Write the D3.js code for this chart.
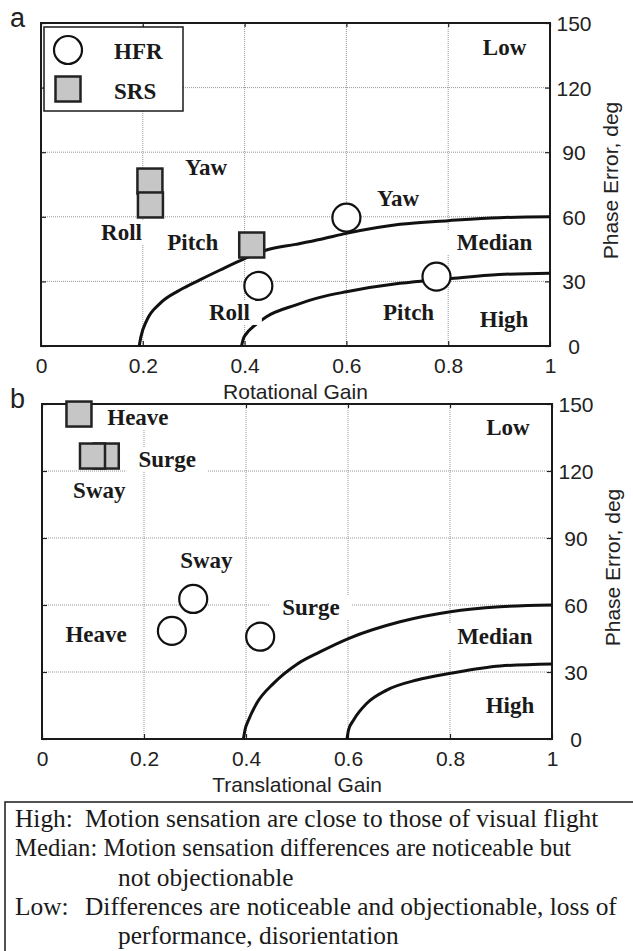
<!DOCTYPE html>
<html>
<head>
<meta charset="utf-8">
<script src="https://cdn.jsdelivr.net/npm/d3@7"></script>
<style>
  body { margin: 0; background: #fff; }
  svg { display: block; }
</style>
</head>
<body>
<div id="chart"></div>
<script>
// Axis ticks
const gainTicks = [0, 0.2, 0.4, 0.6, 0.8, 1];
const gainTickLabels = ["0", "0.2", "0.4", "0.6", "0.8", "1"];
const phaseTicks = [0, 30, 60, 90, 120, 150];

// Panel a: rotational motion
const rotHfrNames = ["Yaw", "Roll", "Pitch"];
const rotHfrGain = [0.600, 0.427, 0.777];
const rotHfrPhase = [59.6, 27.9, 32.2];
const rotSrsNames = ["Yaw", "Roll", "Pitch"];
const rotSrsGain = [0.214, 0.215, 0.414];
const rotSrsPhase = [76.6, 65.5, 46.9];

// fidelity boundaries (gain, phase)
const rotMedianBound = [[0.193, 0], [0.196, 4], [0.208, 12], [0.234, 19.8], [0.273, 26], [0.312, 30.7],
  [0.352, 35.3], [0.401, 40.7], [0.443, 44.6], [0.5, 47.2], [0.55, 49.6], [0.6, 52.3], [0.705, 56.5],
  [0.8, 58.2], [0.9, 59.6], [1, 60]];
const rotHighBound = [[0.394, 0], [0.397, 3], [0.404, 5.9], [0.417, 9], [0.443, 13.6], [0.5, 19],
  [0.548, 22.6], [0.6, 25.2], [0.705, 29.1], [0.8, 31.2], [0.9, 33.2], [1, 33.8]];

const rotLabelText = ["Yaw", "Roll", "Pitch", "Yaw", "Roll", "Pitch", "Low", "Median", "High"];
const rotLabelGain = [0.283, 0.118, 0.248, 0.660, 0.330, 0.672, 0.868, 0.817, 0.862];
const rotLabelPhase = [79.4, 49.2, 44.6, 65.0, 12.1, 12.1, 135.2, 44.6, 8.8];

// Panel b: translational motion
const trHfrNames = ["Sway", "Heave", "Surge"];
const trHfrGain = [0.2965, 0.2547, 0.4278];
const trHfrPhase = [62.7, 48.4, 45.8];
const trSrsNames = ["Heave", "Surge", "Sway"];
const trSrsGain = [0.0725, 0.126, 0.099];
const trSrsPhase = [145.5, 126.7, 126.7];

const trMedianBound = [[0.395, 0], [0.398, 4], [0.405, 8.5], [0.421, 16], [0.454, 24.9], [0.5, 33.5],
  [0.545, 39], [0.602, 45.1], [0.702, 52.5], [0.801, 57], [0.898, 59.2], [1, 60]];
const trHighBound = [[0.598, 0], [0.601, 4], [0.611, 8.5], [0.637, 16], [0.676, 21.9], [0.735, 26.4],
  [0.801, 29.4], [0.898, 32.7], [1, 33.6]];

const trLabelText = ["Heave", "Surge", "Sway", "Sway", "Heave", "Surge", "Low", "Median", "High"];
const trLabelGain = [0.128, 0.189, 0.061, 0.271, 0.046, 0.471, 0.871, 0.814, 0.870];
const trLabelPhase = [140.6, 121.8, 107.9, 76.6, 43.4, 55.5, 136.1, 42.5, 11.6];

// Notes below the plots
const noteKeys = ["High:", "Median:", "", "Low:", ""];
const noteLines = [
  "Motion sensation are close to those of visual flight",
  "Motion sensation differences are noticeable but",
  "not objectionable",
  "Differences are noticeable and objectionable, loss of",
  "performance, disorientation"
];

const W = 633, H = 951;
const SANS = "'Liberation Sans', Arial, sans-serif";
const SERIF = "'Liberation Serif', 'Times New Roman', serif";

const svg = d3.select("#chart").append("svg")
  .attr("width", W)
  .attr("height", H);

function drawPanel(p) {
  const x = d3.scaleLinear().domain([0, 1]).range([p.left, p.right]);
  const y = d3.scaleLinear().domain([0, 150]).range([p.bottom, p.top]);
  const g = svg.append("g");

  // dotted grid
  g.selectAll(".vgrid")
    .data(gainTicks.slice(1, -1))
    .enter().append("line")
    .attr("x1", d => x(d)).attr("x2", d => x(d))
    .attr("y1", p.top).attr("y2", p.bottom)
    .attr("stroke", "#8a8a8a").attr("stroke-width", 0.9)
    .attr("stroke-dasharray", "1,1");
  g.selectAll(".hgrid")
    .data(phaseTicks.slice(1, -1))
    .enter().append("line")
    .attr("x1", p.left).attr("x2", p.right)
    .attr("y1", d => y(d)).attr("y2", d => y(d))
    .attr("stroke", "#8a8a8a").attr("stroke-width", 0.9)
    .attr("stroke-dasharray", "1,1");

  // axes with inward ticks
  const xAxis = g.append("g")
    .attr("transform", `translate(0,${p.bottom})`)
    .call(d3.axisBottom(x).tickValues(gainTicks)
      .tickFormat((d, i) => gainTickLabels[i])
      .tickSize(-5).tickSizeOuter(0).tickPadding(12));
  g.append("g")
    .attr("transform", `translate(0,${p.top})`)
    .call(d3.axisTop(x).tickValues(gainTicks).tickFormat("").tickSize(-4).tickSizeOuter(0));
  g.append("g")
    .attr("transform", `translate(${p.left},0)`)
    .call(d3.axisLeft(y).tickValues(phaseTicks).tickFormat("").tickSize(-5).tickSizeOuter(0));
  const yAxis = g.append("g")
    .attr("transform", `translate(${p.right},0)`)
    .call(d3.axisRight(y).tickValues(phaseTicks).tickSize(-5).tickSizeOuter(0));

  g.selectAll(".domain").remove();
  g.selectAll(".tick line").attr("stroke", "#222").attr("stroke-width", 1.2);
  xAxis.selectAll("text")
    .style("font-family", SANS).style("font-size", "21px").attr("fill", "#222");
  yAxis.selectAll("text")
    .attr("x", 24).attr("dy", "0.36em")
    .attr("text-anchor", "middle")
    .style("font-family", SANS).style("font-size", "21px").attr("fill", "#222");

  // box
  g.append("rect")
    .attr("x", p.left).attr("y", p.top)
    .attr("width", p.right - p.left).attr("height", p.bottom - p.top)
    .attr("fill", "none").attr("stroke", "#1a1a1a").attr("stroke-width", 2);

  // axis titles
  g.append("text")
    .attr("x", (p.left + p.right) / 2).attr("y", p.bottom + 53)
    .attr("text-anchor", "middle")
    .style("font-family", SANS).style("font-size", "21px").attr("fill", "#222")
    .text(p.xTitle);
  g.append("text")
    .attr("transform", `translate(${p.right + 68},${(p.top + p.bottom) / 2 - 4}) rotate(-90)`)
    .attr("text-anchor", "middle")
    .style("font-family", SANS).style("font-size", "21px").attr("fill", "#222")
    .text("Phase Error, deg");

  // panel letter
  svg.append("text")
    .attr("x", 10).attr("y", p.top + 4)
    .style("font-family", SANS).style("font-size", "27px").attr("fill", "#222")
    .text(p.letter);

  // boundary curves
  const line = d3.line()
    .x(d => x(d[0])).y(d => y(d[1]))
    .curve(d3.curveMonotoneX);
  g.selectAll(".bound")
    .data(p.bounds)
    .enter().append("path")
    .attr("d", line)
    .attr("fill", "none").attr("stroke", "#111").attr("stroke-width", 3);

  // text labels with white background
  p.labelText.forEach((t, i) => {
    const lg = g.append("g");
    const txt = lg.append("text")
      .attr("x", x(p.labelGain[i])).attr("y", y(p.labelPhase[i]))
      .style("font-family", SERIF).style("font-size", "23px").style("font-weight", "bold")
      .attr("fill", "#1a1a1a")
      .text(t);
    const bb = txt.node().getBBox();
    lg.insert("rect", "text")
      .attr("x", bb.x - 12).attr("y", bb.y)
      .attr("width", bb.width + 24).attr("height", bb.height)
      .attr("fill", "#fff");
  });

  // markers
  g.selectAll(".srs")
    .data(p.srsGain)
    .enter().append("rect")
    .attr("x", (d, i) => x(d) - 12.5)
    .attr("y", (d, i) => y(p.srsPhase[i]) - 12.5)
    .attr("width", 25).attr("height", 25)
    .attr("fill", "#c6c6c6").attr("stroke", "#222").attr("stroke-width", 2.5);
  g.selectAll(".hfr")
    .data(p.hfrGain)
    .enter().append("circle")
    .attr("cx", d => x(d))
    .attr("cy", (d, i) => y(p.hfrPhase[i]))
    .attr("r", 14)
    .attr("fill", "#fff").attr("stroke", "#111").attr("stroke-width", 2.2);
}

drawPanel({
  letter: "a", left: 41, right: 550, top: 23, bottom: 346,
  xTitle: "Rotational Gain",
  bounds: [rotMedianBound, rotHighBound],
  labelText: rotLabelText, labelGain: rotLabelGain, labelPhase: rotLabelPhase,
  hfrGain: rotHfrGain, hfrPhase: rotHfrPhase,
  srsGain: rotSrsGain, srsPhase: rotSrsPhase
});

drawPanel({
  letter: "b", left: 42, right: 552, top: 404, bottom: 739,
  xTitle: "Translational Gain",
  bounds: [trMedianBound, trHighBound],
  labelText: trLabelText, labelGain: trLabelGain, labelPhase: trLabelPhase,
  hfrGain: trHfrGain, hfrPhase: trHfrPhase,
  srsGain: trSrsGain, srsPhase: trSrsPhase
});

// Legend (panel a)
const legend = svg.append("g");
legend.append("rect")
  .attr("x", 44).attr("y", 27).attr("width", 139).attr("height", 84)
  .attr("fill", "#fff").attr("stroke", "#1a1a1a").attr("stroke-width", 1.5);
legend.append("circle")
  .attr("cx", 68).attr("cy", 50).attr("r", 14)
  .attr("fill", "#fff").attr("stroke", "#111").attr("stroke-width", 2.2);
legend.append("rect")
  .attr("x", 55.5).attr("y", 76.5).attr("width", 25).attr("height", 25)
  .attr("fill", "#c6c6c6").attr("stroke", "#222").attr("stroke-width", 2.5);
legend.selectAll(".legtext")
  .data(["HFR", "SRS"])
  .enter().append("text")
  .attr("x", 114)
  .attr("y", (d, i) => i === 0 ? 59 : 99)
  .style("font-family", SERIF).style("font-size", "23px").style("font-weight", "bold")
  .attr("fill", "#1a1a1a")
  .text(d => d);

// Notes box
const notes = svg.append("g");
notes.append("rect")
  .attr("x", 5).attr("y", 802).attr("width", 660).attr("height", 200)
  .attr("fill", "none").attr("stroke", "#1a1a1a").attr("stroke-width", 1.5);
const bodyX = [85, null, 118, 85, 118];
noteLines.forEach((t, i) => {
  const ty = 827 + i * 29.3;
  const txt = notes.append("text")
    .attr("y", ty)
    .style("font-family", SERIF).style("font-size", "25.4px").attr("fill", "#1a1a1a");
  if (noteKeys[i] === "Median:") {
    // this line is set a little tighter in the original
    txt.attr("x", 15).style("font-size", "24.7px").text(noteKeys[i] + " " + t);
  } else {
    if (noteKeys[i]) {
      notes.append("text").attr("x", 15).attr("y", ty)
        .style("font-family", SERIF).style("font-size", "25.4px").attr("fill", "#1a1a1a")
        .text(noteKeys[i]);
    }
    txt.attr("x", bodyX[i]).text(t);
  }
});
</script>
</body>
</html>
